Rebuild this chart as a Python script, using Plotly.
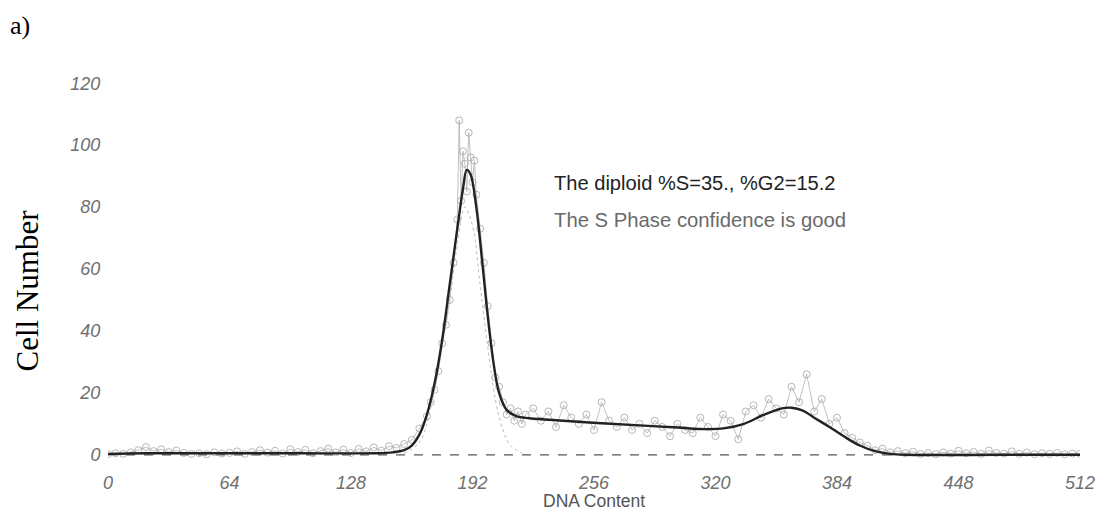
import plotly.graph_objects as go

# ---- data ----
fit_x = [0, 20, 60, 100, 140, 150, 156, 160, 164, 168, 172, 176, 180, 184, 187, 189, 191,
         194, 197, 200, 203, 206, 210, 215, 222, 240, 260, 280, 300, 315, 325, 335, 345,
         355, 360, 366, 372, 380, 388, 396, 404, 412, 420, 470, 512]
fit_y = [0.3, 0.5, 0.5, 0.5, 0.5, 0.8, 1.5, 3, 6.5, 13, 23, 37, 55, 73, 86, 92, 90.5,
         80, 63, 45, 30, 20, 14.5, 12.5, 11.8, 11, 10.2, 9.5, 8.8, 8.3, 8.6, 10, 12.8,
         15, 15.2, 14.3, 12, 9, 5.8, 3, 1.2, 0.3, 0, 0, 0]

g1_x = [156, 164, 170, 176, 180, 184, 188, 192, 196, 200, 204, 208, 212, 218]
g1_y = [0.5, 4, 15, 35, 50, 68, 80, 74, 55, 35, 18, 8, 3, 0.5]

raw_x = [0, 4, 8, 12, 16, 20, 24, 28, 32, 36, 40, 44, 48, 52, 56, 60, 64, 68, 72, 76,
         80, 84, 88, 92, 96, 100, 104, 108, 112, 116, 120, 124, 128, 132, 136, 140, 144,
         148, 152, 156, 160, 164, 168, 170, 172, 174, 176, 178, 180, 182, 184, 185, 186,
         187, 188, 189, 190, 191, 192, 193, 194, 196, 198, 200, 202, 204, 206, 208, 210,
         212, 214, 216, 218, 220, 224, 228, 232, 236, 240, 244, 248, 252, 256, 260, 264,
         268, 272, 276, 280, 284, 288, 292, 296, 300, 304, 308, 312, 316, 320, 324, 328,
         332, 336, 340, 344, 348, 352, 356, 360, 364, 368, 372, 376, 380, 384, 388, 392,
         396, 400, 404, 408, 412, 416, 420, 424, 428, 432, 436, 440, 444, 448, 452, 456,
         460, 464, 468, 472, 476, 480, 484, 488, 492, 496, 500, 504, 508, 512]
raw_y = [0.2, 0.5, 0.3, 0.8, 1.5, 2.5, 1.2, 1.8, 0.9, 1.4, 0.6, 0.3, 0.5, 0.2, 0.8, 0.4,
         0.6, 1.1, 0.3, 0.9, 1.5, 0.7, 1.3, 0.4, 1.8, 0.9, 1.6, 0.5, 1.2, 2.0, 0.8, 1.7,
         0.6, 1.9, 1.1, 2.4, 1.3, 2.8, 2.2, 3.5, 4.8, 8.5, 12.5, 17, 21, 27, 36, 42, 50,
         62, 76, 108, 82, 98, 94, 85, 104, 96, 88, 95, 84, 73, 62, 48, 36, 25, 22, 17, 13,
         15, 11, 14, 10, 13, 15, 11, 14, 9, 16, 12, 10, 13, 8, 17, 11, 9, 12, 8, 10, 7,
         11, 9, 6, 10, 8, 7, 12, 9, 6, 13, 11, 5, 14, 16, 12, 18, 15, 13, 22, 17, 26, 14,
         18, 10, 12, 7, 5.5, 4, 3, 1.5, 2, 0.8, 1.2, 0.5, 1.0, 0.3, 0.6, 0.2, 0.8, 0.4,
         1.3, 0.5, 0.9, 0.3, 1.4, 0.6, 0.4, 1.1, 0.3, 0.7, 0.2, 0.5, 0.3, 0.6, 0.2, 0.4, 0.3]

base_x = [0, 512]
base_y = [0, 0]

x_ticks = [0, 64, 128, 192, 256, 320, 384, 448, 512]
y_ticks = [0, 20, 40, 60, 80, 100, 120]

fig = go.Figure()

fig.add_trace(go.Scatter(x=base_x, y=base_y, mode="lines",
                         line=dict(color="#555555", width=1.2, dash="dash"),
                         hoverinfo="skip", showlegend=False))
fig.add_trace(go.Scatter(x=raw_x, y=raw_y, mode="lines+markers",
                         line=dict(color="#b0b0b0", width=0.8),
                         marker=dict(symbol="circle-open", size=7,
                                     color="#a5a5a5", line=dict(width=0.8)),
                         showlegend=False))
fig.add_trace(go.Scatter(x=g1_x, y=g1_y, mode="lines", line_shape="spline",
                         line=dict(color="#bbbbbb", width=1, dash="dot"),
                         showlegend=False))
fig.add_trace(go.Scatter(x=fit_x, y=fit_y, mode="lines", line_shape="spline",
                         line=dict(color="#222222", width=2.4),
                         showlegend=False))

tickfont = dict(family="Liberation Sans, Arial, sans-serif", size=18,
                color="#6f6f6f", style="italic")

fig.update_layout(
    width=1108, height=516,
    margin=dict(l=108, r=28, t=77, b=55),
    paper_bgcolor="white", plot_bgcolor="white",
    xaxis=dict(range=[0, 512], tickvals=x_ticks, ticktext=[str(v) for v in x_ticks],
               showgrid=False, zeroline=False, showline=False,
               ticks="outside", ticklen=5, tickcolor="rgba(0,0,0,0)",
               tickfont=tickfont),
    yaxis=dict(range=[-2, 122], tickvals=y_ticks, ticktext=[str(v) for v in y_ticks],
               showgrid=False, zeroline=False, showline=False,
               ticks="outside", ticklen=3, tickcolor="rgba(0,0,0,0)",
               tickfont=tickfont),
    annotations=[
        dict(text="a)", xref="paper", yref="paper", x=-0.103, y=1.135,
             xanchor="left", yanchor="middle", showarrow=False,
             font=dict(family="Liberation Serif, Times New Roman, serif", size=26, color="black")),
        dict(text="Cell Number", xref="paper", yref="paper", x=-0.083, y=0.445,
             textangle=-90, showarrow=False, xanchor="center", yanchor="middle",
             font=dict(family="Liberation Serif, Times New Roman, serif", size=31, color="black")),
        dict(text="DNA Content", xref="paper", yref="paper", x=0.5, y=-0.105,
             showarrow=False, xanchor="center", yanchor="middle",
             font=dict(family="Liberation Sans, Arial, sans-serif", size=17.5, color="#555555")),
        dict(text="The diploid %S=35., %G2=15.2", xref="paper", yref="paper",
             x=0.457, y=0.724, xanchor="left", yanchor="middle", showarrow=False,
             font=dict(family="Liberation Sans, Arial, sans-serif", size=20.1, color="#222222")),
        dict(text="The S Phase confidence is good", xref="paper", yref="paper",
             x=0.457, y=0.628, xanchor="left", yanchor="middle", showarrow=False,
             font=dict(family="Liberation Sans, Arial, sans-serif", size=20.3, color="#6a6a6a")),
    ],
)

fig.write_html("out.html")
